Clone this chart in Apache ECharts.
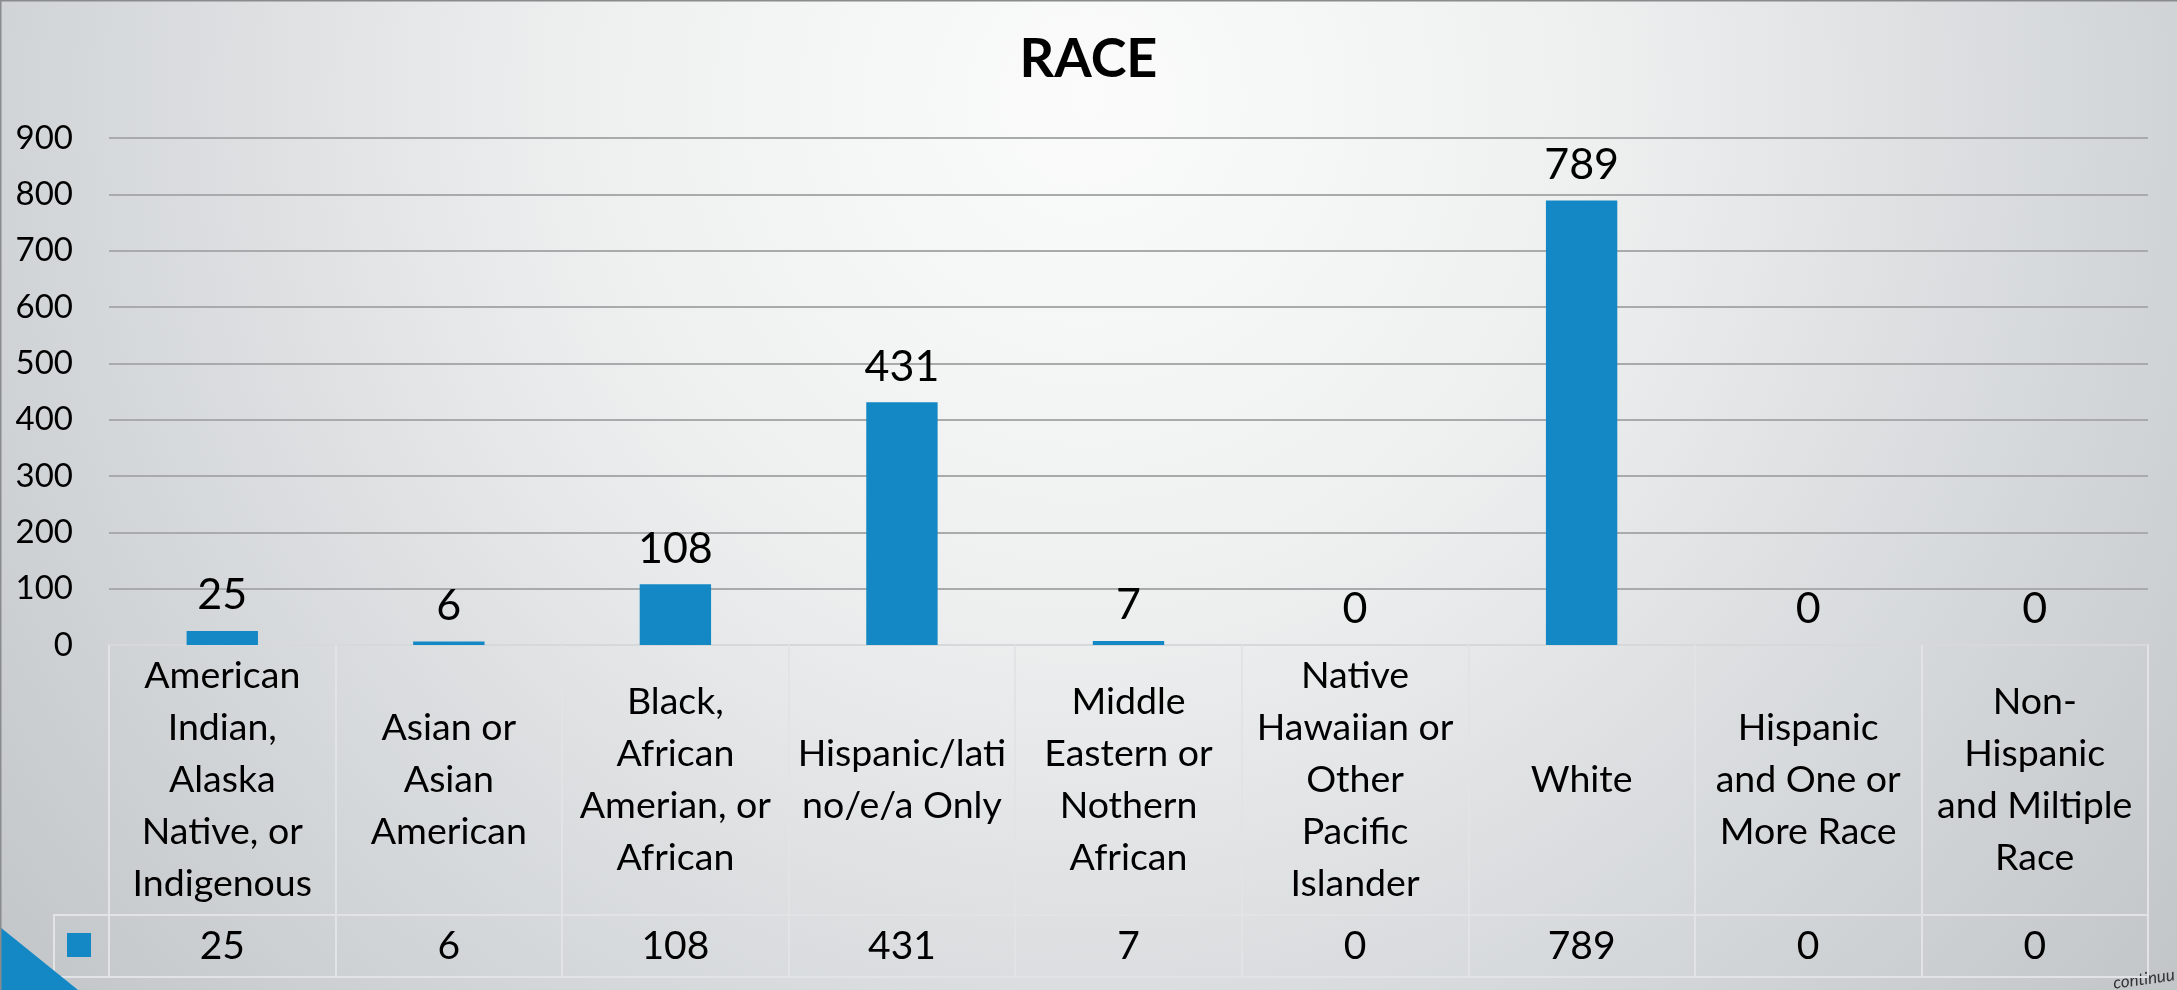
<!DOCTYPE html>
<html><head><meta charset="utf-8">
<script src="https://cdn.jsdelivr.net/npm/echarts@6/dist/echarts.min.js"></script>
<style>html,body{margin:0;padding:0;background:#fff;}#c{width:2177px;height:990px;}</style>
</head><body><div id="c"></div>
<script>
const chartTitle = 'RACE';
const seriesName = 'Race';
const categories = [
  'American\nIndian,\nAlaska\nNative, or\nIndigenous',
  'Asian or\nAsian\nAmerican',
  'Black,\nAfrican\nAmerian, or\nAfrican',
  'Hispanic/lati\nno/e/a Only',
  'Middle\nEastern or\nNothern\nAfrican',
  'Native\nHawaiian or\nOther\nPacific\nIslander',
  'White',
  'Hispanic\nand One or\nMore Race',
  'Non-\nHispanic\nand Miltiple\nRace'
];
const values = [25, 6, 108, 431, 7, 0, 789, 0, 0];
const yMin = 0, yMax = 900, yStep = 100;

const FONT = "Lato, 'Open Sans', sans-serif";
const BLUE = '#1488c5';

const chart = echarts.init(document.getElementById('c'), null, {renderer: 'canvas'});
chart.setOption({
  backgroundColor: {
    type: 'radial', x: 0.5, y: 0.1, r: 1.45,
    colorStops: [
      {offset: 0, color: '#fbfbfb'},
      {offset: 0.35, color: '#eef0f0'},
      {offset: 0.7, color: '#d5d8da'},
      {offset: 1, color: '#c0c4c7'}
    ]
  },
  textStyle: {fontFamily: FONT},
  title: {
    text: chartTitle, left: 'center', top: 28,
    textStyle: {fontFamily: FONT, fontSize: 54, fontWeight: 'bold', color: '#000'}
  },
  legend: {
    data: [seriesName], left: 67, top: 933, itemWidth: 24, itemHeight: 24,
    icon: 'rect', selectedMode: false, formatter: () => '', padding: 0, itemGap: 0,
    textStyle: {fontSize: 1}
  },
  grid: {left: 109, right: 29, top: 138, bottom: 345},
  xAxis: [
    {
      type: 'category', data: categories, position: 'bottom',
      axisLine: {show: true, lineStyle: {color: '#d6d8d9', width: 2}},
      axisTick: {show: true, alignWithLabel: false, inside: false, length: 332,
        lineStyle: {color: '#e2e3e4', width: 2}},
      axisLabel: {interval: 0, margin: 135, verticalAlign: 'middle', align: 'center',
        fontSize: 37.5, lineHeight: 52, color: '#000', fontFamily: FONT}
    },
    {
      type: 'category', data: values.map(String), position: 'bottom', offset: 270,
      axisLine: {show: true, lineStyle: {color: '#e2e3e4', width: 2}},
      axisTick: {show: false},
      axisLabel: {interval: 0, margin: 31, verticalAlign: 'middle', align: 'center',
        fontSize: 39, color: '#000', fontFamily: FONT}
    },
    {
      type: 'category', data: values.map(String), position: 'bottom', offset: 332,
      axisLine: {show: true, lineStyle: {color: '#e2e3e4', width: 2}},
      axisTick: {show: false}, axisLabel: {show: false}
    }
  ],
  yAxis: {
    type: 'value', min: yMin, max: yMax, interval: yStep,
    axisLine: {show: false}, axisTick: {show: false},
    splitLine: {show: true, lineStyle: {color: '#a9aaab', width: 2}},
    axisLabel: {fontSize: 33, margin: 36, color: '#000', fontFamily: FONT}
  },
  series: [{
    name: seriesName, type: 'bar', xAxisIndex: 0, data: values,
    barWidth: '31.5%', itemStyle: {color: BLUE},
    label: {show: true, position: 'top', distance: 14, fontSize: 43, color: '#000', fontFamily: FONT}
  }],
  graphic: [
    {type: 'rect', shape: {x: 54, y: 915, width: 55, height: 62},
      style: {fill: 'none', stroke: '#e2e3e4', lineWidth: 2}, silent: true},
    {type: 'polygon', shape: {points: [[0, 927], [78, 990], [0, 990]]},
      style: {fill: BLUE}, silent: true},
    {type: 'rect', shape: {x: 0.5, y: 0.5, width: 2200, height: 1000},
      style: {fill: 'none', stroke: '#8a8b8c', lineWidth: 2}, silent: true},
    {type: 'text', x: 2112, y: 975, rotation: 0.14,
      style: {text: 'continuu', fontSize: 17, fontStyle: 'italic', fill: '#333', fontFamily: FONT}, silent: true}
  ],
  animation: false
});
</script>
</body></html>
